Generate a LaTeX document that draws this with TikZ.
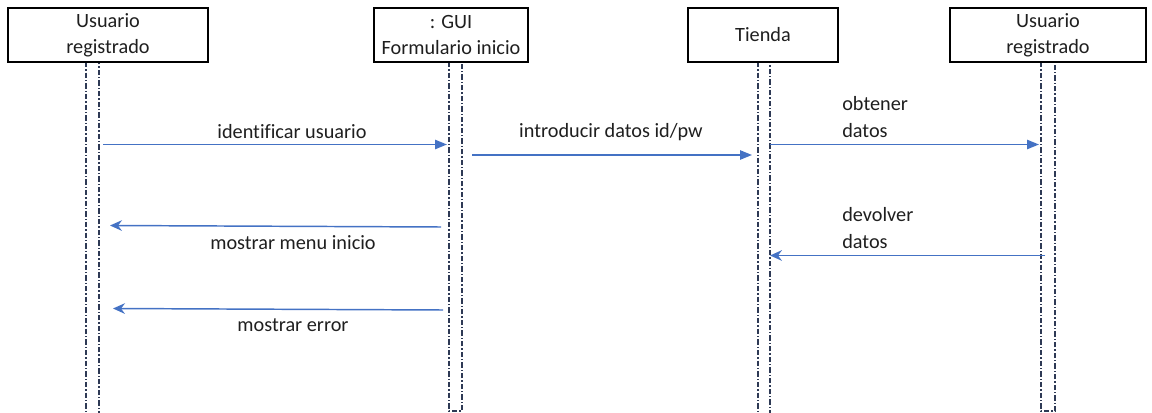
\documentclass[tikz,border=0pt]{standalone}
\usepackage{fontspec}
\setmainfont{Carlito}[Ligatures=CommonOff]
\usetikzlibrary{arrows.meta}
\definecolor{msgblue}{HTML}{4472C4}
\definecolor{lifeink}{HTML}{2E3A55}
\definecolor{txt}{HTML}{1F1F1F}
\begin{document}
\begin{tikzpicture}[x=0.75pt,y=-0.75pt,
  font=\fontsize{15.2}{19.5}\selectfont,
  actor/.style={draw=black,line width=1pt,fill=white,text=txt,align=center,inner sep=0pt},
  bar/.style={draw=lifeink,line width=1pt,dash pattern=on 4pt off 1.6pt on 0.8pt off 1.6pt},
  call/.style={draw=msgblue,line width=1.1pt,-{Triangle[length=9pt,width=7pt]}},
  reply/.style={draw=msgblue,line width=1.1pt,-{Stealth[length=9pt,width=8pt,inset=3pt]}},
  lbl/.style={text=txt,inner sep=0pt,anchor=center},
  lbll/.style={text=txt,inner sep=0pt,anchor=west}]
\useasboundingbox (0,0) rectangle (1152,413);
\clip (0,0) rectangle (1152,413);

% activation bars
\draw[bar] (86,62) rectangle (99,430);
\draw[bar] (449,62) rectangle (462,411);
\draw[bar] (758,62) rectangle (770,430);
\draw[bar] (1041,62) rectangle (1055,411);

% participants
\node[actor,minimum width=150pt,minimum height=40.5pt] (u1) at (108,35) {Usuario\\registrado};
\node[actor,minimum width=115.5pt,minimum height=40.5pt] (gui) at (451,35) {: GUI\\Formulario inicio};
\node[actor,minimum width=112.5pt,minimum height=40.5pt] (tienda) at (763,35) {Tienda};
\node[actor,minimum width=147pt,minimum height=40.5pt] (u2) at (1048,35) {Usuario\\registrado};

% message end points
\coordinate (m1s) at (103,144.5);  \coordinate (m1e) at (447,144.5);
\coordinate (m2s) at (472,155);    \coordinate (m2e) at (752,155);
\coordinate (m3s) at (770,144.5);  \coordinate (m3e) at (1039,144.5);
\coordinate (m4s) at (1045,255.5); \coordinate (m4e) at (770,255.5);
\coordinate (m5s) at (441,227);    \coordinate (m5e) at (110,225.5);
\coordinate (m6s) at (443,310);    \coordinate (m6e) at (113,308.5);

% messages
\draw[call] (m1s) -- (m1e);
\draw[call] (m2s) -- (m2e);
\draw[call] (m3s) -- (m3e);
\draw[reply] (m4s) -- (m4e);
\draw[reply] (m5s) -- (m5e);
\draw[reply] (m6s) -- (m6e);

% message labels
\node[lbl] (l1) at (292,132) {identificar usuario};
\node[lbl] (l2) at (611,132) {introducir datos id/pw};
\node[lbll] (l3a) at (842,104) {obtener};
\node[lbll] (l3b) at (842,131) {datos};
\node[lbll] (l4a) at (842,215) {devolver};
\node[lbll] (l4b) at (842,242) {datos};
\node[lbl] (l5) at (293,243) {mostrar menu inicio};
\node[lbl] (l6) at (293,325) {mostrar error};
\end{tikzpicture}
\end{document}
